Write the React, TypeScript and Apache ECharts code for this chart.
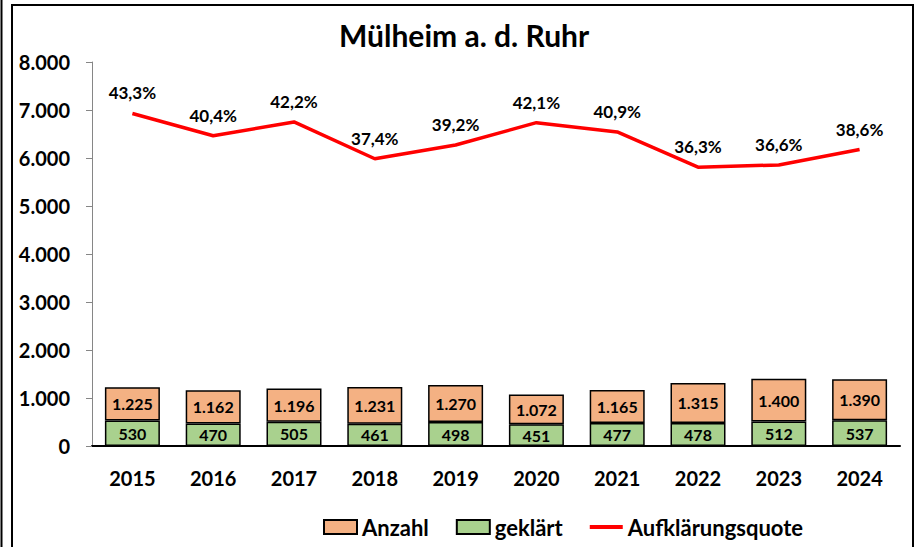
import React, { useEffect, useRef } from "react";
import * as echarts from "echarts";

const years = ["2015", "2016", "2017", "2018", "2019", "2020", "2021", "2022", "2023", "2024"];
const anzahl = [1225, 1162, 1196, 1231, 1270, 1072, 1165, 1315, 1400, 1390];
const geklaert = [530, 470, 505, 461, 498, 451, 477, 478, 512, 537];
const quote = [43.3, 40.4, 42.2, 37.4, 39.2, 42.1, 40.9, 36.3, 36.6, 38.6];
const yTicks = [0, 1000, 2000, 3000, 4000, 5000, 6000, 7000, 8000];

const FONT = "Lato";
const fmtThousand = (v: number) => String(v).replace(/\B(?=(\d{3})+(?!\d))/g, ".");

export default function App() {
  const ref = useRef<HTMLDivElement>(null);
  useEffect(() => {
    if (!ref.current) return;
    const chart = echarts.init(ref.current, null, { renderer: "svg" });
    const rest = anzahl.map((a, i) => a - geklaert[i]);
    const labelStyle = {
      fontFamily: FONT,
      fontSize: 16,
      fontWeight: "bold",
      color: "#000",
    };
    chart.setOption({
      animation: false,
      backgroundColor: "#ffffff",
      textStyle: { fontFamily: FONT },
      title: {
        text: "Mülheim a. d. Ruhr",
        left: 339,
        top: 20,
        padding: 0,
        textStyle: { fontFamily: FONT, fontSize: 30, fontWeight: "bold", color: "#000" },
      },
      graphic: [
        { type: "line", shape: { x1: 1.5, y1: 0, x2: 1.5, y2: 547 }, style: { stroke: "#000", lineWidth: 2 } },
        {
          type: "rect",
          shape: { x: 12, y: 5, width: 901, height: 560 },
          style: { fill: "none", stroke: "#000", lineWidth: 2 },
        },
      ],
      legend: {
        left: 323,
        top: 516,
        padding: 0,
        itemWidth: 33,
        itemHeight: 14,
        itemGap: 27,
        textStyle: { fontFamily: FONT, fontSize: 22, fontWeight: "bold", color: "#000" },
        data: [
          { name: "Anzahl", icon: "rect" },
          { name: "geklärt", icon: "rect" },
          {
            name: "Aufklärungsquote",
            icon: "path://M0,0 L0,0 M0,5 L33,5 L33,9 L0,9 Z M33,14 L33,14",
            itemStyle: { color: "#FF0000", borderWidth: 0 },
          },
        ],
      },
      grid: { left: 92, right: 18, top: 62, bottom: 101, containLabel: false },
      xAxis: {
        type: "category",
        data: years,
        axisLine: { lineStyle: { color: "#000", width: 2 } },
        axisTick: { show: false },
        axisLabel: { fontFamily: FONT, fontSize: 20, fontWeight: "bold", color: "#000", margin: 22 },
      },
      yAxis: [
        {
          type: "value",
          min: yTicks[0],
          max: yTicks[yTicks.length - 1],
          interval: 1000,
          axisLine: { show: true, lineStyle: { color: "#868686", width: 1 } },
          axisTick: { show: true, length: 6, lineStyle: { color: "#868686" } },
          splitLine: { show: false },
          axisLabel: {
            fontFamily: FONT,
            fontSize: 20,
            fontWeight: "bold",
            color: "#000",
            margin: 22,
            formatter: (v: number) => fmtThousand(v),
          },
        },
        { type: "value", min: 0, max: 50, show: false },
      ],
      series: [
        {
          name: "geklärt",
          type: "bar",
          stack: "s",
          barWidth: 55,
          data: geklaert,
          itemStyle: { color: "#A9D18E", borderColor: "#000", borderWidth: 1.5 },
          label: {
            show: true,
            position: "inside",
            ...labelStyle,
            formatter: (p: any) => fmtThousand(geklaert[p.dataIndex]),
          },
        },
        {
          name: "Anzahl",
          type: "bar",
          stack: "s",
          barWidth: 55,
          data: rest,
          itemStyle: { color: "#F4B183", borderColor: "#000", borderWidth: 1.5 },
          label: {
            show: true,
            position: "inside",
            ...labelStyle,
            formatter: (p: any) => fmtThousand(anzahl[p.dataIndex]),
          },
        },
        {
          name: "Aufklärungsquote",
          type: "line",
          yAxisIndex: 1,
          data: quote,
          symbol: "none",
          lineStyle: { color: "#FF0000", width: 3.5 },
          itemStyle: { color: "#FF0000" },
        },
        {
          name: "Quote-Beschriftung",
          type: "scatter",
          yAxisIndex: 1,
          data: quote,
          symbolSize: 0,
          itemStyle: { color: "rgba(0,0,0,0)", opacity: 1 },
          label: {
            show: true,
            position: "top",
            distance: 12,
            ...labelStyle,
            fontSize: 17,
            formatter: (p: any) => quote[p.dataIndex].toFixed(1).replace(".", ",") + "%",
          },
          silent: true,
        },
      ],
    });
    return () => chart.dispose();
  }, []);
  return (
    <div
      ref={ref}
      style={{ position: "fixed", left: 0, top: 0, width: 918, height: 547 }}
    />
  );
}
